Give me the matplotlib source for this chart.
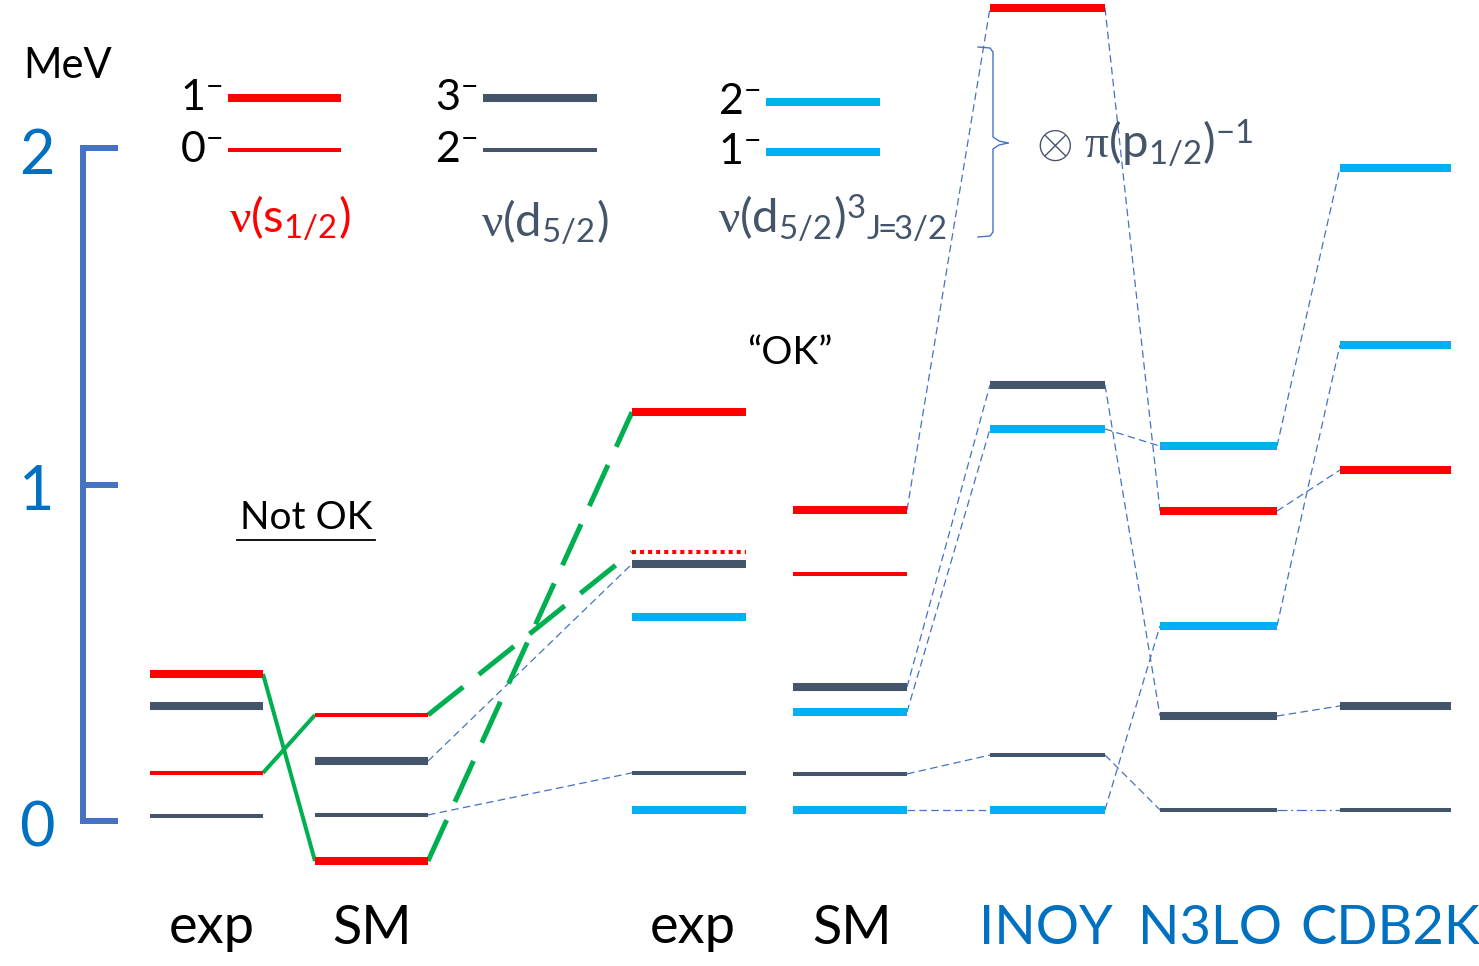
import matplotlib
matplotlib.use("Agg")
import matplotlib.pyplot as plt

plt.rcParams['font.family'] = ['Lato', 'DejaVu Sans']
plt.rcParams['mathtext.fontset'] = 'custom'
plt.rcParams['mathtext.rm'] = 'Lato'
# Greek letters in math mode come from the 'it' slot: keep them upright and serif
plt.rcParams['mathtext.it'] = 'Liberation Serif'

RED = '#FF0000'
SLATE = '#44546A'
CYAN = '#00B0F0'
GREEN = '#00B050'
LINK = '#4472C4'
AXBLUE = '#0070C0'

columns = ['exp', 'SM', 'exp', 'SM', 'INOY', 'N3LO', 'CDB2K']
# level energies (MeV) per column, None = not shown
s_1minus = [0.437, -0.119, 1.215, 0.924, 2.416, 0.921, 1.043]
s_0minus = [0.143, 0.315, 0.799, 0.734, None, None, None]
d_3minus = [0.342, 0.178, 0.764, 0.398, 1.296, 0.312, 0.342]
d_2minus = [0.015, 0.018, 0.143, 0.140, 0.196, 0.033, 0.033]
d3_upper = [None, None, 0.606, 0.324, 1.165, 1.114, 1.941]
d3_lower = [None, None, 0.033, 0.033, 0.033, 0.580, 1.415]
energy_ticks = [0, 1, 2]

W, H = 1479, 966
PX_PER_MEV = 336.5
Y0 = 821  # pixel row of 0 MeV

col_left = [150, 315, 632, 793, 990, 1160, 1340]
col_right = [263, 428, 746, 907, 1105, 1277, 1451]
label_x = [212, 372, 693, 852, 1046, 1210, 1390]
label_color = ['black'] * 4 + [AXBLUE] * 3

THICK, THIN = 5.8, 2.9
series = [
    (s_1minus, RED, THICK),
    (s_0minus, RED, THIN),
    (d_3minus, SLATE, THICK),
    (d_2minus, SLATE, THIN),
    (d3_upper, CYAN, THICK),
    (d3_lower, CYAN, THICK),
]

fig = plt.figure(figsize=(W / 100, H / 100), dpi=100)
ax = fig.add_axes([0, 0, 1, 1])
ax.set_xlim(0, W)
ax.set_ylim((Y0 - H) / PX_PER_MEV, Y0 / PX_PER_MEV)
ax.axis('off')

# overlay in pixel coordinates for the key and the labels
ann = fig.add_axes([0, 0, 1, 1], facecolor='none')
ann.set_xlim(0, W)
ann.set_ylim(H, 0)
ann.axis('off')

# levels
for values, color, lw in series:
    for i, e in enumerate(values):
        if e is None:
            continue
        style = dict(color=color, lw=lw, solid_capstyle='butt')
        if values is s_0minus and i == 2:
            # tentative 0- in the experimental spectrum
            style.update(ls=(0, (1, 1)), dash_capstyle='butt')
        ax.plot([col_left[i], col_right[i]], [e, e], zorder=3, **style)


def link(values, i, j, **kw):
    ax.plot([col_right[i], col_left[j]], [values[i], values[j]], zorder=2, **kw)


blue_dash = dict(color=LINK, lw=0.9, ls=(0, (6, 3.5)))

# SM -> exp, and the interaction columns
link(d_3minus, 1, 2, **blue_dash)
link(d_2minus, 1, 2, **blue_dash)
for i in (3, 4, 5):
    for values, _, _ in series:
        if values[i] is None or values[i + 1] is None:
            continue
        if values is d_2minus and i == 5:
            link(values, i, i + 1, color=LINK, lw=0.9, ls=(0, (8, 3, 1.5, 3)))
        else:
            link(values, i, i + 1, **blue_dash)

# s1/2 doublet: exp -> SM (solid), SM -> exp (dashed)
for values in (s_1minus, s_0minus):
    link(values, 0, 1, color=GREEN, lw=2.9, solid_capstyle='butt')
    link(values, 1, 2, color=GREEN, lw=3.6, ls=(0, (9, 4)), dash_capstyle='butt')

# energy scale bracket
ax.plot([118, 83, 83, 118], [energy_ticks[-1], energy_ticks[-1], energy_ticks[0], energy_ticks[0]],
        color=LINK, lw=4.3, solid_joinstyle='miter', solid_capstyle='butt')
for t in energy_ticks:
    ax.plot([83, 118], [t, t], color=LINK, lw=4.3, solid_capstyle='butt')
    ax.text(37, t - 0.025, str(t), color=AXBLUE, fontsize=44, ha='center', va='center')

ann.text(68, 66, 'MeV', fontsize=30, ha='center', va='center')

# column labels
for i, name in enumerate(columns):
    ann.text(label_x[i], 928, name, fontsize=39, ha='center', va='center', color=label_color[i])

# key
key = [
    ('1$^{-}$', 98, 228, 341, RED, THICK),
    ('0$^{-}$', 150, 228, 341, RED, THIN),
    ('3$^{-}$', 98, 483, 597, SLATE, THICK),
    ('2$^{-}$', 150, 483, 597, SLATE, THIN),
    ('2$^{-}$', 102, 766, 880, CYAN, THICK),
    ('1$^{-}$', 152, 766, 880, CYAN, THICK),
]
for text, yk, x0, x1, color, lw in key:
    ann.plot([x0, x1], [yk, yk], color=color, lw=lw, solid_capstyle='butt')
    ann.text(x0 - 6, yk, text, fontsize=31, ha='right', va='center')

ann.text(290, 218, r'$\nu$(s$_{1/2}$)', color=RED, fontsize=34, ha='center', va='center')
ann.text(545, 222, r'$\nu$(d$_{5/2}$)', color=SLATE, fontsize=34, ha='center', va='center')
ann.text(718, 218, r'$\nu$(d$_{5/2}$)$^{3}{}_{\mathrm{J}\!\!=\!\!\mathrm{3/2}}$', color=SLATE,
         fontsize=34, ha='left', va='center')

# brace and proton-hole label
ann.plot([978, 990, 993, 993, 999, 1008], [47, 48, 52, 137, 141, 143], color=LINK, lw=1)
ann.plot([1008, 999, 993, 993, 990, 978], [143, 145, 149, 232, 236, 237], color=LINK, lw=1)
ann.text(1036, 143, r'$\otimes\ \pi$(p$_{1/2}$)$^{-1}$', color=SLATE, fontsize=34,
         ha='left', va='center')

ann.text(306, 518, 'Not OK', fontsize=28, ha='center', va='center')
ann.plot([237, 375], [540, 540], color='black', lw=1.3)
ann.text(790, 353, '“OK”', fontsize=28, ha='center', va='center')

fig.savefig('out.png', dpi=100)
